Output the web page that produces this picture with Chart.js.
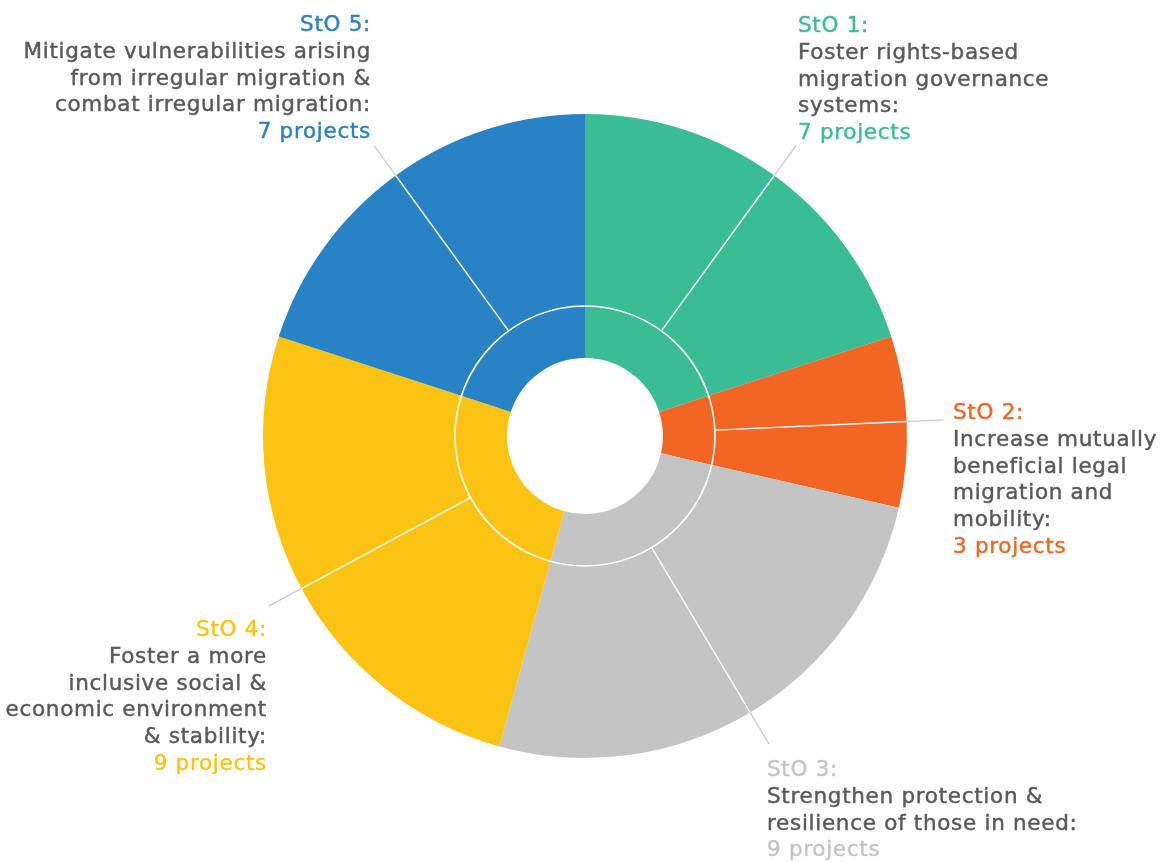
<!DOCTYPE html>
<html>
<head>
<meta charset="utf-8">
<title>Projects by strategic objective</title>
<script src="https://cdn.jsdelivr.net/npm/chart.js@4/dist/chart.umd.min.js"></script>
<style>
  html, body { margin: 0; padding: 0; background: #fff; }
  #wrap { width: 1171px; height: 862px; }
</style>
</head>
<body>
<div id="wrap"><canvas id="objectivesChart" width="1171" height="862"></canvas></div>
<script>
// strategic objectives and number of projects under each
const objectives = ['StO 1:', 'StO 2:', 'StO 3:', 'StO 4:', 'StO 5:'];
const projectCounts = [7, 3, 9, 9, 7];
const descriptions = [
    ['Foster rights-based', 'migration governance', 'systems:'],
    ['Increase mutually', 'beneficial legal', 'migration and', 'mobility:'],
    ['Strengthen protection &', 'resilience of those in need:'],
    ['Foster a more', 'inclusive social &', 'economic environment', '& stability:'],
    ['Mitigate vulnerabilities arising', 'from irregular migration &', 'combat irregular migration:']
];
const colours = ['#3abd94', '#f26522', '#c4c4c4', '#fbc314', '#2882c6'];

// where each text block sits (first baseline) and how it is aligned
const labelBoxes = [
    { x: 798, y: 32, align: 'left' },
    { x: 953, y: 419, align: 'left' },
    { x: 767, y: 776, align: 'left' },
    { x: 267, y: 636, align: 'right' },
    { x: 371, y: 31, align: 'right' }
];

const FONT = '21.5px "DejaVu Sans", sans-serif';
const LINE_H = 26.8;
const TEXT_GREY = '#595959';

const calloutPlugin = {
    id: 'callouts',
    afterDatasetsDraw(chart) {
        const c = chart.ctx;
        const outer = chart.getDatasetMeta(0).data;
        c.save();
        // white ring between the inner and outer doughnut
        const a0 = outer[0];
        c.beginPath();
        c.arc(a0.x, a0.y, a0.innerRadius, 0, Math.PI * 2);
        c.strokeStyle = '#ffffff';
        c.lineWidth = 1.6;
        c.stroke();

        // leader lines along the middle of every slice
        outer.forEach(arc => {
            const mid = (arc.startAngle + arc.endAngle) / 2;
            const cos = Math.cos(mid), sin = Math.sin(mid);
            c.beginPath();
            c.moveTo(arc.x + cos * arc.innerRadius, arc.y + sin * arc.innerRadius);
            c.lineTo(arc.x + cos * arc.outerRadius, arc.y + sin * arc.outerRadius);
            c.strokeStyle = '#ffffff';
            c.lineWidth = 1.4;
            c.stroke();
            c.beginPath();
            c.moveTo(arc.x + cos * arc.outerRadius, arc.y + sin * arc.outerRadius);
            c.lineTo(arc.x + cos * (arc.outerRadius + 37), arc.y + sin * (arc.outerRadius + 37));
            c.strokeStyle = '#c8c8c8';
            c.lineWidth = 1.2;
            c.stroke();
        });
        c.restore();
    },
    afterDraw(chart) {
        const c = chart.ctx;
        c.save();
        c.font = FONT;
        c.letterSpacing = '0.7px';
        c.textBaseline = 'alphabetic';
        c.lineWidth = 0.45;
        c.lineJoin = 'round';
        const put = (text, x, y, colour) => {
            c.fillStyle = colour;
            c.strokeStyle = colour;
            c.fillText(text, x, y);
            c.strokeText(text, x, y);
        };
        objectives.forEach((title, i) => {
            const box = labelBoxes[i];
            c.textAlign = box.align;
            let y = box.y;
            put(title, box.x, y, colours[i]);
            descriptions[i].forEach(line => {
                y += LINE_H;
                put(line, box.x, y, TEXT_GREY);
            });
            y += LINE_H;
            put(projectCounts[i] + ' projects', box.x, y, colours[i]);
        });
        c.restore();
    }
};

new Chart(document.getElementById('objectivesChart'), {
    type: 'doughnut',
    data: {
        labels: objectives,
        datasets: [
            {
                data: projectCounts,
                backgroundColor: colours,
                borderWidth: 0,
                hoverOffset: 0,
                weight: 192
            },
            {
                data: projectCounts,
                backgroundColor: colours,
                borderWidth: 0,
                hoverOffset: 0,
                weight: 52
            }
        ]
    },
    options: {
        responsive: false,
        animation: false,
        cutout: 78,
        layout: { padding: { left: 263, right: 264, top: 114, bottom: 104 } },
        plugins: {
            legend: { display: false },
            tooltip: { enabled: false }
        },
        events: []
    },
    plugins: [calloutPlugin]
});
</script>
</body>
</html>
